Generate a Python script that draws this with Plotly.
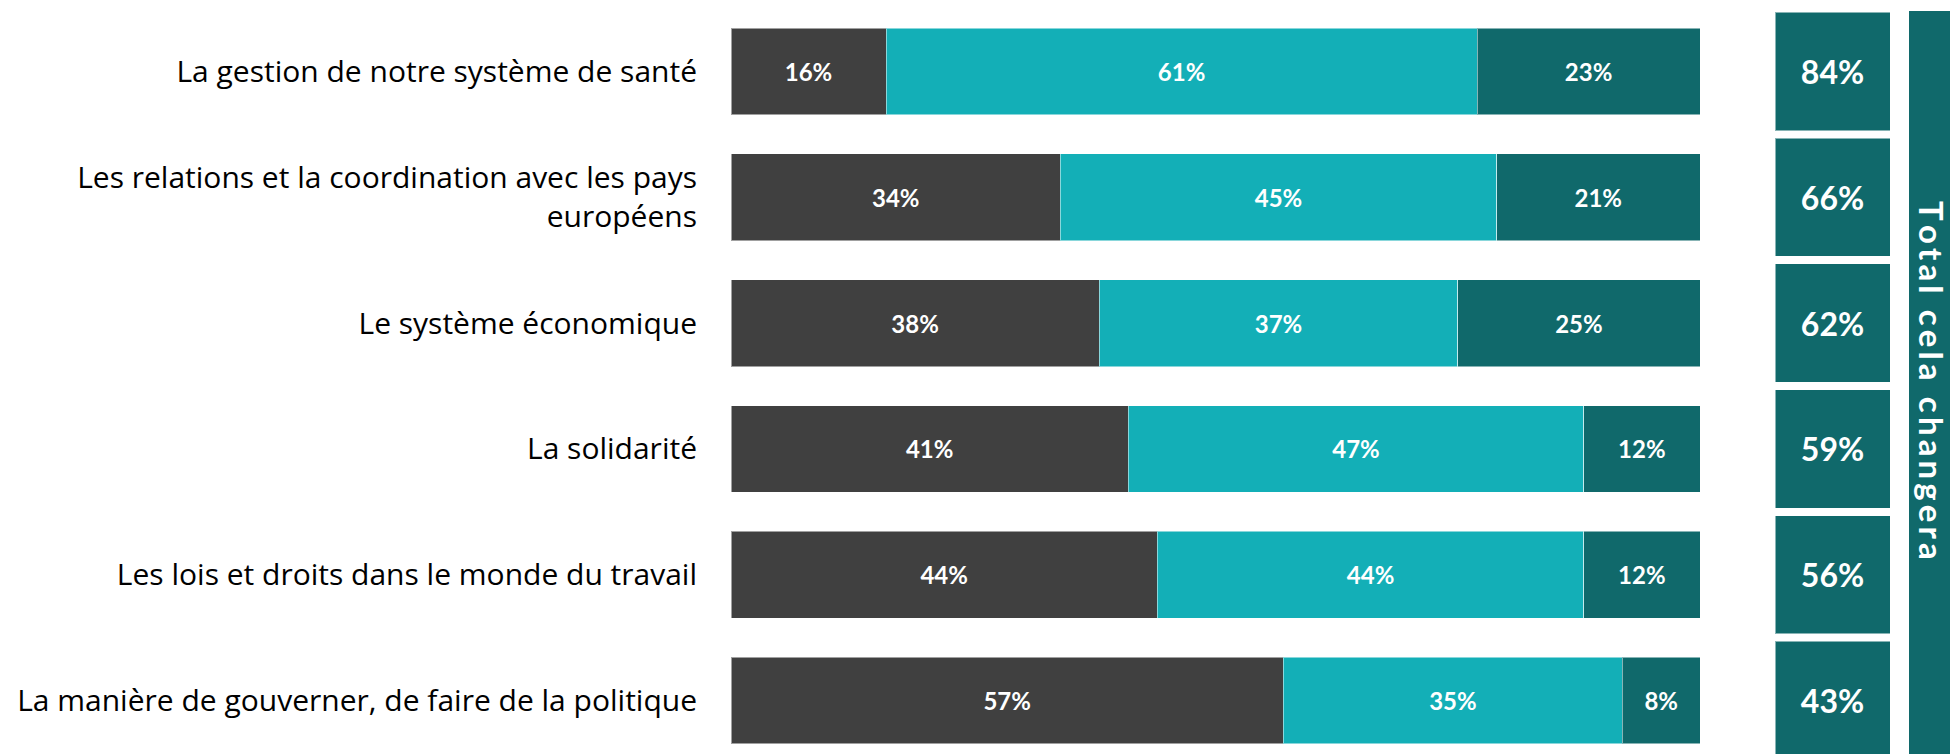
import plotly.graph_objects as go

W, H = 1950, 754

categories = [
    "La gestion de notre système de santé",
    "Les relations et la coordination avec les pays<br>européens",
    "Le système économique",
    "La solidarité",
    "Les lois et droits dans le monde du travail",
    "La manière de gouverner, de faire de la politique",
]
ne_change_pas = [16, 34, 38, 41, 44, 57]
change_un_peu = [61, 45, 37, 47, 44, 35]
change_beaucoup = [23, 21, 25, 12, 12, 8]
total_change = [84, 66, 62, 59, 56, 43]
side_title = "Total cela changera"

C_DARK = "#404040"
C_TEAL = "#13AFB7"
C_DTEAL = "#10696B"
EDGE = dict(color="rgba(255,255,255,0.5)", width=1)

fig = go.Figure()

for vals, col in [(ne_change_pas, C_DARK), (change_un_peu, C_TEAL), (change_beaucoup, C_DTEAL)]:
    fig.add_trace(go.Bar(
        y=categories, x=vals, orientation="h",
        marker=dict(color=col, line=EDGE),
        text=[f"{v}%" for v in vals],
        textposition="inside", insidetextanchor="middle",
        textfont=dict(family="Lato", size=24, color="white", weight=700),
        hoverinfo="skip", showlegend=False,
        xaxis="x", yaxis="y",
    ))

fig.add_trace(go.Bar(
    y=categories, x=[1] * len(total_change), orientation="h",
    width=0.94,
    marker=dict(color=C_DTEAL, line=EDGE),
    text=[f"{v}%" for v in total_change],
    textposition="inside", insidetextanchor="middle",
    textfont=dict(family="Lato", size=32, color="white", weight=700),
    hoverinfo="skip", showlegend=False,
    xaxis="x2", yaxis="y",
))

# row geometry: first row centre at 71.5px, spacing 125.8px
top_idx = -71.5 / 125.8
bot_idx = top_idx + H / 125.8

fig.update_layout(
    width=W, height=H,
    margin=dict(l=0, r=0, t=0, b=0),
    paper_bgcolor="white", plot_bgcolor="white",
    barmode="stack", bargap=0.31,
    uniformtext=dict(minsize=20, mode="show"),
    xaxis=dict(domain=[731 / W, 1700 / W], range=[0, 100], visible=False, fixedrange=True),
    xaxis2=dict(domain=[1775 / W, 1890 / W], range=[0, 1], visible=False, anchor="y"),
    yaxis=dict(
        range=[bot_idx, top_idx], categoryorder="array", categoryarray=categories,
        showgrid=False, zeroline=False, showline=False, ticks="",
        tickfont=dict(family="Open Sans", size=30, color="#000000"),
        ticklabelstandoff=33, automargin=False,
    ),
    font=dict(family="Lato"),
)

fig.add_shape(type="rect", xref="paper", yref="paper",
              x0=1909 / W, x1=1.0, y0=0, y1=1 - 11 / H,
              fillcolor=C_DTEAL, line=dict(width=0), layer="below")

fig.add_annotation(
    xref="paper", yref="paper", x=1932 / W, y=1 - 380 / H,
    text="\u2009".join(side_title), textangle=90, showarrow=False,
    font=dict(family="Lato", size=33, color="white", weight=700),
    xanchor="center", yanchor="middle",
)

fig.write_html(
    "out.html",
    config={"displayModeBar": False},
    post_script="document.body.style.margin='0';document.body.style.overflow='hidden';",
)
